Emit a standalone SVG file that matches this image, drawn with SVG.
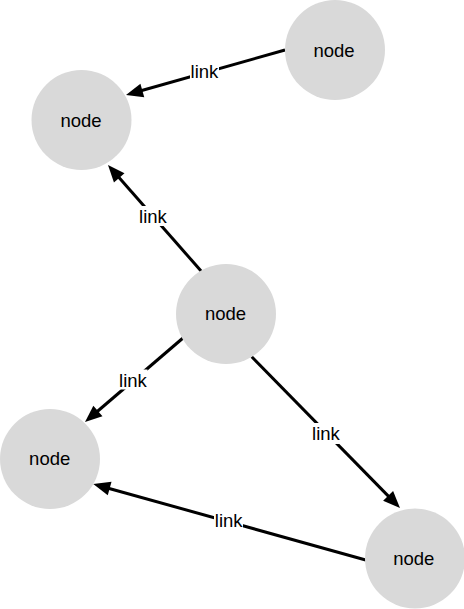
<svg xmlns="http://www.w3.org/2000/svg" width="464" height="609" viewBox="0 0 464 609">
<style>
.node circle { fill: #d9d9d9; }
text { font-family: "Liberation Sans", Arial, sans-serif; font-size: 18.5px; fill: #000; text-anchor: middle; }
.edge line { stroke: #000; stroke-width: 3; fill: none; marker-end: url(#arrow); }
.edge rect { fill: #fff; }
</style>
<defs>
<marker id="arrow" markerUnits="userSpaceOnUse" markerWidth="18" markerHeight="14" refX="7" refY="7" orient="auto" overflow="visible">
<path d="M0,0 L17,7 L0,14 Z" fill="#000"/>
</marker>
</defs>
<rect width="464" height="609" fill="#fff"/>
<g id="connectors">
<g class="edge" id="e1">
<line x1="285" y1="50" x2="135.6" y2="92.3"/>
<rect x="190" y="61" width="29" height="20"/>
<text x="204.5" y="78">link</text>
</g>
<g class="edge" id="e2">
<line x1="201.7" y1="271.7" x2="114.6" y2="172.5"/>
<rect x="139" y="206" width="29" height="20"/>
<text x="153" y="222.7">link</text>
</g>
<g class="edge" id="e3">
<line x1="183" y1="338" x2="92.6" y2="415.5"/>
<rect x="118.5" y="369.5" width="29" height="20"/>
<text x="133" y="386.7">link</text>
</g>
<g class="edge" id="e4">
<line x1="251.7" y1="356.7" x2="393" y2="500.9"/>
<rect x="311.5" y="423" width="29" height="21"/>
<text x="326" y="440">link</text>
</g>
<g class="edge" id="e5">
<line x1="365.7" y1="560" x2="102.9" y2="486.7"/>
<rect x="214" y="511" width="29" height="20"/>
<text x="228.7" y="527.3">link</text>
</g>
</g>
<g class="node" id="n1"><circle cx="335" cy="50" r="50"/><text x="334" y="56.7">node</text></g>
<g class="node" id="n2"><circle cx="81.5" cy="120" r="50"/><text x="81" y="126.5">node</text></g>
<g class="node" id="n3"><circle cx="226" cy="314" r="50"/><text x="225.5" y="320">node</text></g>
<g class="node" id="n4"><circle cx="50" cy="459" r="50"/><text x="49.7" y="464.5">node</text></g>
<g class="node" id="n5"><circle cx="415" cy="558.5" r="50"/><text x="413.8" y="564.5">node</text></g>
</svg>
